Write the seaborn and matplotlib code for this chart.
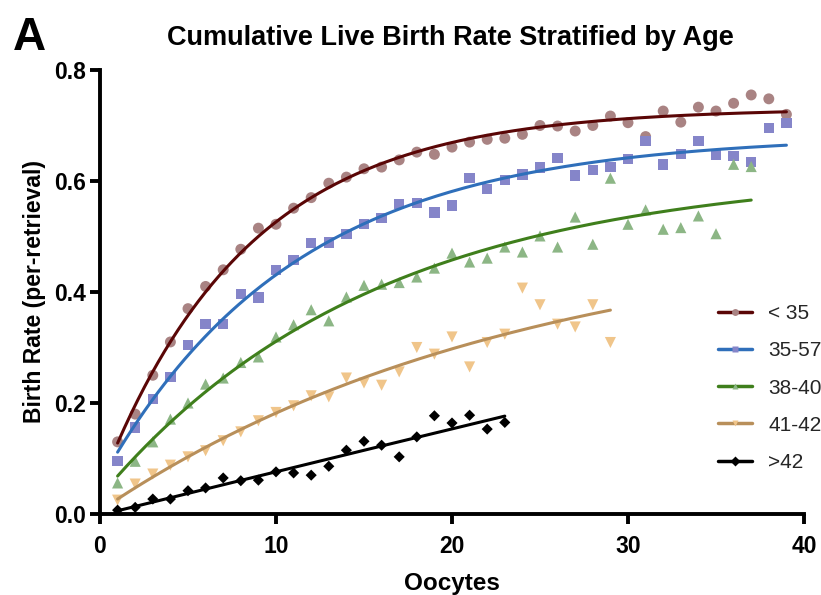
import numpy as np
import pandas as pd
import seaborn as sns
import matplotlib
matplotlib.use('Agg')
import matplotlib.pyplot as plt
from matplotlib.lines import Line2D

# values
x_lt35 = list(range(1, 40))
y_lt35 = [0.13, 0.18, 0.25, 0.31, 0.37, 0.41, 0.44, 0.477, 0.515, 0.522,
          0.551, 0.57, 0.596, 0.607, 0.622, 0.625, 0.638, 0.652, 0.648, 0.661,
          0.67, 0.675, 0.677, 0.684, 0.70, 0.699, 0.69, 0.70, 0.717, 0.705,
          0.68, 0.726, 0.706, 0.733, 0.726, 0.74, 0.755, 0.748, 0.72]

x_35_57 = list(range(1, 40))
y_35_57 = [0.095, 0.156, 0.207, 0.247, 0.305, 0.342, 0.342, 0.396, 0.39, 0.44,
           0.458, 0.488, 0.489, 0.504, 0.522, 0.533, 0.558, 0.56, 0.543, 0.556,
           0.605, 0.586, 0.602, 0.612, 0.624, 0.641, 0.61, 0.62, 0.625, 0.64,
           0.672, 0.63, 0.649, 0.672, 0.647, 0.645, 0.634, 0.695, 0.705]

x_38_40 = list(range(1, 38))
y_38_40 = [0.056, 0.095, 0.13, 0.171, 0.20, 0.234, 0.245, 0.273, 0.283, 0.319,
           0.341, 0.368, 0.348, 0.391, 0.412, 0.414, 0.417, 0.427, 0.443, 0.47,
           0.454, 0.461, 0.481, 0.472, 0.501, 0.481, 0.535, 0.486, 0.605, 0.522,
           0.548, 0.513, 0.516, 0.537, 0.505, 0.63, 0.626]

x_41_42 = list(range(1, 30))
y_41_42 = [0.025, 0.054, 0.072, 0.088, 0.103, 0.114, 0.132, 0.148, 0.168, 0.183,
           0.195, 0.213, 0.211, 0.245, 0.236, 0.232, 0.256, 0.30, 0.288, 0.319,
           0.265, 0.309, 0.324, 0.407, 0.377, 0.342, 0.337, 0.377, 0.309]

x_gt42 = list(range(1, 24))
y_gt42 = [0.007, 0.012, 0.027, 0.027, 0.042, 0.047, 0.065, 0.06, 0.061, 0.076,
          0.074, 0.07, 0.086, 0.115, 0.131, 0.124, 0.103, 0.139, 0.177, 0.164,
          0.178, 0.153, 0.165]

labels = ['< 35', '35-57', '38-40', '41-42', '>42']
markers = ['o', 's', '^', 'v', 'D']
marker_colors = ['#a98383', '#8585c9', '#8cb685', '#f0c58a', '#000000']
line_colors = ['#5a0606', '#2f6fba', '#3f7f1c', '#b88f5a', '#000000']
marker_sizes = [62, 56, 64, 64, 32]


def fit_plateau(x, y):
    # one-phase association: y = a + b*exp(-k x), least squares over a grid of k
    x = np.asarray(x, float)
    y = np.asarray(y, float)
    best = None
    for k in np.linspace(0.001, 0.5, 2000):
        A = np.column_stack([np.ones_like(x), np.exp(-k * x)])
        coef, res, _, _ = np.linalg.lstsq(A, y, rcond=None)
        err = np.sum((A @ coef - y) ** 2)
        if best is None or err < best[0]:
            best = (err, k, coef)
    _, k, (a, b) = best
    xs = np.linspace(x.min(), x.max(), 200)
    return xs, a + b * np.exp(-k * xs)


series = [(x_lt35, y_lt35), (x_35_57, y_35_57), (x_38_40, y_38_40),
          (x_41_42, y_41_42), (x_gt42, y_gt42)]

sns.set_theme(style='ticks')
plt.rcParams['font.family'] = ['Liberation Sans', 'DejaVu Sans']
plt.rcParams['font.weight'] = 'bold'

fig = plt.figure(figsize=(8.21, 5.95), dpi=100)
ax = fig.add_axes([0.1218, 0.1361, 0.8575, 0.7463])

for (xv, yv), lab, m, mc, lc, ms in zip(series, labels, markers, marker_colors,
                                         line_colors, marker_sizes):
    df = pd.DataFrame({'x': xv, 'y': yv})
    sns.scatterplot(data=df, x='x', y='y', marker=m, color=mc, s=ms,
                    edgecolor='none', ax=ax, zorder=2, legend=False)
    xs, ys = fit_plateau(xv, yv)
    sns.lineplot(x=xs, y=ys, color=lc, linewidth=2.2, ax=ax, zorder=3)

ax.set_xlim(0, 40)
ax.set_ylim(0, 0.8)
ax.set_xticks([0, 10, 20, 30, 40])
ax.set_yticks([0.0, 0.2, 0.4, 0.6, 0.8])
ax.set_yticklabels(['0.0', '0.2', '0.4', '0.6', '0.8'])
ax.tick_params(axis='both', length=7, width=2.8, labelsize=16.5, color='black',
               labelcolor='black')
ax.tick_params(axis='x', pad=8)
ax.tick_params(axis='y', pad=3)
for lbl in ax.get_xticklabels() + ax.get_yticklabels():
    lbl.set_fontweight('bold')
for side in ['top', 'right']:
    ax.spines[side].set_visible(False)
for side in ['left', 'bottom']:
    ax.spines[side].set_linewidth(2.8)
    ax.spines[side].set_color('black')
ax.spines['left'].set_capstyle('projecting')
ax.spines['bottom'].set_capstyle('projecting')

ax.set_xlabel('Oocytes', fontsize=17.5, fontweight='bold', color='black', labelpad=10)
ax.set_ylabel('Birth Rate (per-retrieval)', fontsize=16.5, fontweight='bold',
              color='black', labelpad=6)

fig.text(0.548, 0.936, 'Cumulative Live Birth Rate Stratified by Age',
         ha='center', va='center', fontsize=19.5, fontweight='bold', color='black')
fig.text(0.016, 0.936, 'A', ha='left', va='center', fontsize=33,
         fontweight='bold', color='black')

handles = [Line2D([0], [0], color=lc, lw=2.5, marker=m, markersize=5,
                  markerfacecolor=mc, markeredgecolor='none')
           for m, mc, lc in zip(markers, marker_colors, line_colors)]
leg = fig.legend(handles, labels, loc='upper left',
                 bbox_to_anchor=(0.852, 0.52), frameon=False,
                 prop={'size': 15, 'weight': 'normal'},
                 handlelength=1.6, handletextpad=0.8, labelspacing=0.87)

fig.savefig('out.png', dpi=100)
